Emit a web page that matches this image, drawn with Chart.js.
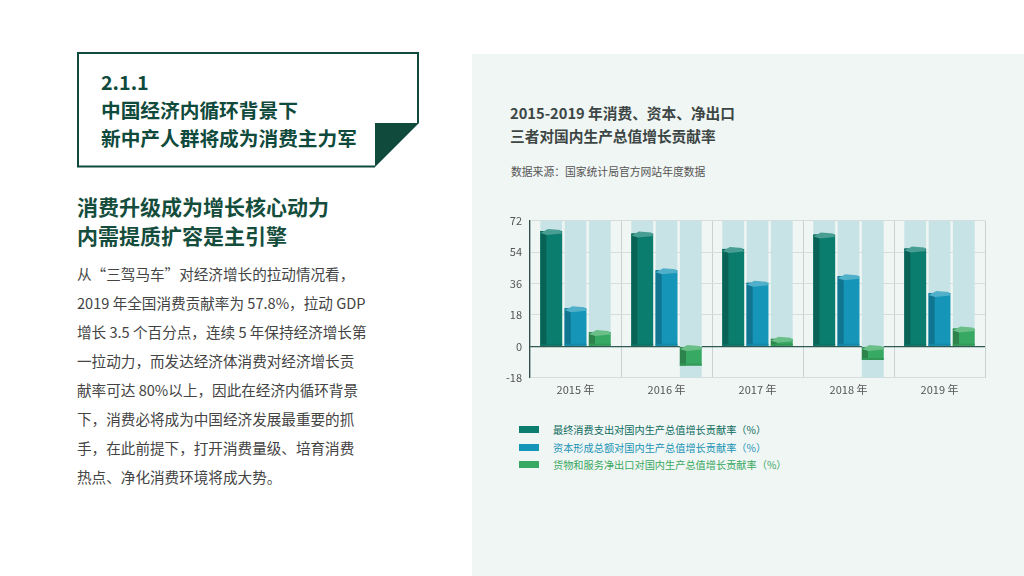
<!DOCTYPE html>
<html><head><meta charset="utf-8">
<script src="https://cdn.jsdelivr.net/npm/chart.js@4.4.1/dist/chart.umd.min.js"></script>
<style>
html,body{margin:0;padding:0;width:1024px;height:576px;background:#fff;overflow:hidden;font-family:"Noto Sans CJK SC","Noto Sans",sans-serif;}
#panel{position:absolute;left:472px;top:54px;width:552px;height:522px;background:#f0f6f4;}
#box{position:absolute;left:77px;top:52px;}
#box svg{position:absolute;left:0;top:0;}
.t1{position:absolute;left:101px;font-size:19.7px;font-weight:700;color:#0f4a3c;line-height:28px;white-space:nowrap;}
.sub{position:absolute;left:77px;font-size:21px;font-weight:700;color:#154d3d;line-height:29px;white-space:nowrap;}
#body{position:absolute;left:77px;top:259px;width:330px;font-size:14.6px;color:#444;line-height:29px;}
#body div{white-space:nowrap;}
#ctitle{position:absolute;left:510px;top:101px;font-size:14.7px;font-weight:700;color:#3d4645;line-height:23px;white-space:nowrap;}
#src{position:absolute;left:511px;top:163px;font-size:10.8px;color:#555;white-space:nowrap;}
#wrap{position:absolute;left:498px;top:206px;width:500px;height:195px;}
#legend{position:absolute;left:519px;top:421px;font-size:10.2px;line-height:17.5px;}
#legend .it{display:flex;align-items:center;white-space:nowrap;}
#legend .sw{width:20px;height:7px;margin-right:14px;}
</style></head>
<body>
<div id="panel"></div>
<div id="box">
<svg width="345" height="116" viewBox="0 0 345 116">
<polyline points="298,114.5 1,114.5 1,1 341,1 341,71" fill="none" stroke="#0f4a3c" stroke-width="2"/>
<polygon points="298,71 342,71 298,115" fill="#0f4a3c"/>
</svg>
</div>
<div class="t1" style="top:68px">2.1.1</div>
<div class="t1" style="top:96px">中国经济内循环背景下</div>
<div class="t1" style="top:124px">新中产人群将成为消费主力军</div>
<div class="sub" style="top:192px">消费升级成为增长核心动力</div>
<div class="sub" style="top:221px">内需提质扩容是主引擎</div>
<div id="body">
<div>从“三驾马车”对经济增长的拉动情况看，</div>
<div>2019 年全国消费贡献率为 57.8%，拉动 GDP</div>
<div>增长 3.5 个百分点，连续 5 年保持经济增长第</div>
<div>一拉动力，而发达经济体消费对经济增长贡</div>
<div>献率可达 80%以上，因此在经济内循环背景</div>
<div>下，消费必将成为中国经济发展最重要的抓</div>
<div>手，在此前提下，打开消费量级、培育消费</div>
<div>热点、净化消费环境将成大势。</div>
</div>
<div id="ctitle">2015-2019 年消费、资本、净出口<br>三者对国内生产总值增长贡献率</div>
<div id="src">数据来源：国家统计局官方网站年度数据</div>
<div id="wrap"><canvas id="c"></canvas></div>
<div id="legend"></div>
<script>
const categories = ["2015 年","2016 年","2017 年","2018 年","2019 年"];
const seriesNames = ["最终消费支出对国内生产总值增长贡献率（%）","资本形成总额对国内生产总值增长贡献率（%）","货物和服务净出口对国内生产总值增长贡献率（%）"];
const consumption = [66.0, 64.6, 55.8, 64.0, 56.0];
const capital = [21.8, 43.6, 36.4, 40.2, 30.5];
const netExport = [8.2, -11.0, 4.3, -7.8, 10.2];
const yTicks = [-18, 0, 18, 36, 54, 72];
const colors = ["#0b7d6e","#1596b8","#38a962"];
const textColors = ["#0d6b5e","#1a93b5","#3aa862"];
const bgColor = "#c8e3e5";
const yMin = yTicks[0], yMax = yTicks[yTicks.length-1];
const values = [consumption, capital, netExport];
const bgRange = v => [v < 0 ? yMin : 0, yMax];

const datasets = [];
values.forEach((arr,i)=>{
  datasets.push({label:seriesNames[i], data:arr, backgroundColor:colors[i], stack:'s'+i, order:1, categoryPercentage:0.8, barPercentage:0.9, isValue:true});
});
values.forEach((arr,i)=>{
  datasets.push({label:'bg'+i, data:arr.map(bgRange), backgroundColor:bgColor, stack:'s'+i, order:3, categoryPercentage:0.8, barPercentage:0.9});
});

function shade(hex, f){
  const n=parseInt(hex.slice(1),16);let r=n>>16,g=(n>>8)&255,b=n&255;
  const m=c=>Math.max(0,Math.min(255,Math.round(f<0?c*(1+f):c+(255-c)*f)));
  return `rgb(${m(r)},${m(g)},${m(b)})`;
}
const bar3d = {
  id:'bar3d',
  afterDatasetsDraw(chart){
    const ctx=chart.ctx;
    chart.data.datasets.forEach((ds,di)=>{
      if(!ds.isValue) return;
      const meta=chart.getDatasetMeta(di);
      meta.data.forEach(el=>{
        const p=el.getProps(['x','y','base','width'],true);
        const l=p.x-p.width/2, r=p.x+p.width/2;
        const top=Math.min(p.y,p.base), bot=Math.max(p.y,p.base);
        ctx.save();
        ctx.fillStyle=shade(ds.backgroundColor,-0.22);
        ctx.fillRect(l, top, p.width*0.28, bot-top);
        ctx.fillStyle=shade(ds.backgroundColor,0.25);
        ctx.beginPath();
        ctx.moveTo(l, top+2);
        ctx.lineTo(l+p.width*0.35, top-2);
        ctx.lineTo(r-2, top-1);
        ctx.lineTo(r, top+2.5);
        ctx.lineTo(l+p.width*0.3, top+4);
        ctx.closePath();
        ctx.fill();
        ctx.fillStyle=shade(ds.backgroundColor,-0.1);
        ctx.fillRect(l, bot-2, p.width, 2);
        ctx.restore();
      });
    });
  }
};

new Chart(document.getElementById('c'),{
  type:'bar',
  data:{labels:categories, datasets},
  options:{
    responsive:true, maintainAspectRatio:false, animation:false,
    layout:{padding:{left:0,right:13,top:6,bottom:0}},
    plugins:{legend:{display:false}, tooltip:{enabled:false}},
    scales:{
      x:{offset:true, grid:{offset:true, color:'#c9d2d1', drawTicks:false}, border:{display:false},
         ticks:{color:'#555', font:{size:11, family:'"Noto Sans CJK SC"'}, padding:5}},
      y:{stacked:false, min:yMin, max:yMax, afterBuildTicks:ax=>{ax.ticks=yTicks.map(v=>({value:v}));},
         grid:{color:ctx=>ctx.tick && ctx.tick.value===0 ? '#2f5a52' : '#d6dddc', lineWidth:ctx=>ctx.tick && ctx.tick.value===0?1.2:1, drawTicks:false},
         border:{display:true, color:'#2f4f4a', width:1.2},
         ticks:{color:'#555', font:{size:11, family:'"Noto Sans CJK SC"'}, padding:8}}
    }
  },
  plugins:[bar3d]
});

const lg=document.getElementById('legend');
seriesNames.forEach((n,i)=>{
  const d=document.createElement('div');d.className='it';
  d.innerHTML=`<span class="sw" style="background:${colors[i]}"></span><span style="color:${textColors[i]}">${n}</span>`;
  lg.appendChild(d);
});
</script>
</body></html>
